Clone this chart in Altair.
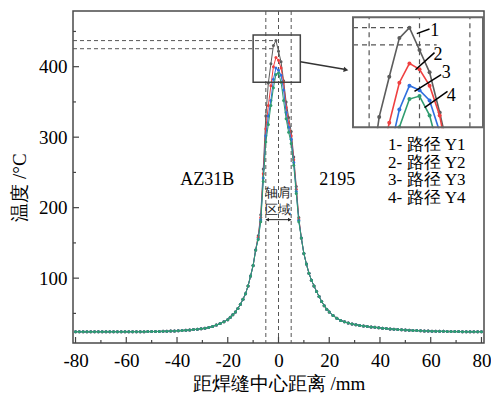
import altair as alt
import pandas as pd

FONT = "Liberation Serif"

series_ids = ["1", "2", "3", "4"]
series_colors = ["#5c5c5c", "#ef4040", "#2f6fdf", "#2f9c70"]

# ---- sampled positions (mm) ----
x_left_tail = [-80, -78.5, -77, -75.5, -74, -72.5, -71, -69.5, -68, -66.5, -65, -63.5,
               -62, -60.5, -59, -57.5, -56, -54.5, -53, -51.5, -50, -48.5, -47, -45.5,
               -44, -42.5, -41, -39.5, -38, -36.5, -35, -33.5, -32, -30.5, -29, -27.5,
               -26, -24.5, -23, -21.5, -20]
x_core = [-19, -18, -17, -16, -15, -14, -13, -12, -11, -10, -9, -8, -7, -6, -5, -4, -3, -2,
          -1, 0, 1, 2, 3, 4, 5, 6, 7, 8, 9, 10, 11, 12, 13, 14, 15, 16, 17, 18, 19]
x_right_tail = [20, 21.5, 23, 24.5, 26, 27.5, 29, 30.5, 32, 33.5, 35, 36.5, 38, 39.5, 41,
                42.5, 44, 45.5, 47, 48.5, 50, 51.5, 53, 54.5, 56, 57.5, 59, 60.5, 62, 63.5,
                65, 66.5, 68, 69.5, 71, 72.5, 74, 75.5, 77, 78.5, 80]

# ---- temperatures (deg C) shared by all paths away from the weld ----
t_left_tail = [24.0, 24.0, 24.0, 24.0, 24.0, 24.0, 24.0, 24.0, 24.0, 24.0, 24.0, 24.0,
               24.1, 24.1, 24.1, 24.1, 24.1, 24.1, 24.1, 24.2, 24.2, 24.3, 24.4, 24.5,
               24.7, 24.9, 25.1, 25.4, 25.7, 26.1, 26.5, 27.0, 27.5, 28.2, 29.0, 30.0,
               31.5, 33.5, 35.5, 38.0, 41.0]
t_core_left = [44.5, 48, 52, 57, 63, 70, 78, 89, 103, 118, 140]          # x -19 .. -9
t_core_right = [157, 135, 120, 107, 97, 89, 81, 74, 67, 61, 56]          # x 9 .. 19
t_right_tail = [52, 47, 43, 40, 38, 36.5, 35, 34, 33, 32.2, 31.5, 30.8, 30.2, 29.6, 29,
                28.5, 28, 27.6, 27.2, 26.8, 26.5, 26.2, 25.9, 25.6, 25.4, 25.2, 25, 24.8,
                24.7, 24.6, 24.5, 24.4, 24.3, 24.2, 24.2, 24.1, 24.1, 24, 24, 24, 24]

# ---- per-path temperatures near the weld centre, x -8 .. 8 ----
t_center_y1 = [160, 190, 255, 330, 377, 404, 430, 437, 422, 407, 380, 350, 328, 308, 272, 230, 186]
t_center_y2 = [158, 186, 248, 312, 345, 373, 400, 413, 409, 398, 378, 342, 320, 302, 268, 226, 184]
t_center_y3 = [156, 183, 242, 302, 330, 352, 382, 398, 395, 388, 367, 335, 314, 297, 264, 223, 182]
t_center_y4 = [155, 180, 237, 293, 318, 345, 370, 389, 391, 378, 352, 326, 307, 291, 260, 220, 180]
centers = [t_center_y1, t_center_y2, t_center_y3, t_center_y4]

x_all = x_left_tail + x_core + x_right_tail
rows = []
for sid, c in zip(series_ids, centers):
    ts = t_left_tail + t_core_left + c + t_core_right + t_right_tail
    for xv, tv in zip(x_all, ts):
        rows.append({"s": sid, "x": xv, "T": tv})
df = pd.DataFrame(rows)

# ---- axis ticks / guides ----
x_major = [-80, -60, -40, -20, 0, 20, 40, 60, 80]
x_minor = [-70, -50, -30, -10, 10, 30, 50, 70]
y_major = [100, 200, 300, 400]
y_minor = [50, 150, 250, 350, 450]
shoulder_x = [-5, 0, 5]
peak_lines_T = [437, 425.5]
peak_lines_main_end = [-1, -2.2]
peak_lines_inset_end = [-1, 1.7]

legend_texts = ["1- 路径 Y1", "2- 路径 Y2", "3- 路径 Y3", "4- 路径 Y4"]
legend_T = [289, 264, 239, 213]

W, H = 411, 332

XS = alt.Scale(domain=[-81, 81], nice=False, zero=False)
YS = alt.Scale(domain=[8, 479], nice=False, zero=False)
XAX = alt.Axis(values=x_major, ticks=False, domain=False, grid=False, labelFont=FONT,
               labelFontSize=19, labelColor="black", labelPadding=8,
               labelExpr="'' + datum.value",
               title="距焊缝中心距离 /mm", titleFont=FONT, titleFontSize=19,
               titleFontWeight="normal", titleColor="black", titlePadding=4)
YAX = alt.Axis(values=y_major, ticks=False, domain=False, grid=False, labelFont=FONT,
               labelFontSize=19, labelColor="black", labelPadding=6,
               title="温度 /°C", titleFont=FONT, titleFontSize=19, titleFontWeight="normal",
               titleColor="black", titlePadding=9, titleY=176)


def mx(f):
    return alt.X(f, type="quantitative", scale=XS, axis=XAX)


def my(f):
    return alt.Y(f, type="quantitative", scale=YS, axis=YAX)


def ox(f):
    return alt.X(f, type="quantitative", scale=XS, axis=None)


def oy(f):
    return alt.Y(f, type="quantitative", scale=YS, axis=None)


XS_in = alt.Scale(domain=[-6.6, 6.3], range=[280, 410], nice=False, zero=False)
YS_in = alt.Scale(domain=[370, 444], range=[116.3, 6.3], nice=False, zero=False)


def ix(f):
    return alt.X(f, type="quantitative", scale=XS_in, axis=None)


def iy(f):
    return alt.Y(f, type="quantitative", scale=YS_in, axis=None)


GUIDE = "#555555"

# ================= main layers =================
main_layers = []
main_layers.append(
    alt.Chart(pd.DataFrame({"x": shoulder_x})).mark_rule(
        color=GUIDE, strokeWidth=1, strokeDash=[4, 3]
    ).encode(x=mx("x"), y=alt.value(0), y2=alt.value(H))
)
main_layers.append(
    alt.Chart(pd.DataFrame({"T": peak_lines_T, "x": [-81, -81], "x2": peak_lines_main_end}))
    .mark_rule(color=GUIDE, strokeWidth=1, strokeDash=[4, 3])
    .encode(y=my("T"), x=mx("x"), x2="x2")
)
for sid, col in zip(series_ids, series_colors):
    d = df[df.s == sid]
    main_layers.append(alt.Chart(d).mark_line(color=col, strokeWidth=1).encode(x=mx("x"), y=my("T")))
    main_layers.append(alt.Chart(d).mark_circle(color=col, size=9, opacity=1).encode(x=mx("x"), y=my("T")))

# ticks (inward)
main_layers.append(alt.Chart(pd.DataFrame({"x": x_major})).mark_rule(color="#444", strokeWidth=1.2)
                   .encode(x=mx("x"), y=alt.value(H), y2=alt.value(H - 6)))
main_layers.append(alt.Chart(pd.DataFrame({"x": x_minor})).mark_rule(color="#444", strokeWidth=1.2)
                   .encode(x=mx("x"), y=alt.value(H), y2=alt.value(H - 3)))
main_layers.append(alt.Chart(pd.DataFrame({"T": y_major})).mark_rule(color="#444", strokeWidth=1.2)
                   .encode(y=my("T"), x=alt.value(0), x2=alt.value(6)))
main_layers.append(alt.Chart(pd.DataFrame({"T": y_minor})).mark_rule(color="#444", strokeWidth=1.2)
                   .encode(y=my("T"), x=alt.value(0), x2=alt.value(3)))

# zoom box + connector arrow
main_layers.append(
    alt.Chart(pd.DataFrame({"x": [-10], "x2": [8.6], "T": [378], "T2": [445]}))
    .mark_rect(fillOpacity=0, stroke="#444", strokeWidth=1.5)
    .encode(x=mx("x"), x2="x2", y=my("T"), y2="T2")
)
main_layers.append(
    alt.Chart(pd.DataFrame({"x": [8.6], "x2": [26.5], "T": [407], "T2": [396]}))
    .mark_rule(color="#333", strokeWidth=1.3)
    .encode(x=mx("x"), x2="x2", y=my("T"), y2="T2")
)
main_layers.append(
    alt.Chart(pd.DataFrame({"x": [26.6], "T": [395.6]}))
    .mark_point(shape="triangle-right", filled=True, size=30, angle=10, color="#333", opacity=1)
    .encode(x=mx("x"), y=my("T"))
)

main = alt.layer(*main_layers)

# ================= inset =================
inset_layers = []
inset_layers.append(
    alt.Chart(pd.DataFrame({"x": [-6.6], "x2": [6.3], "T": [370], "T2": [444]}))
    .mark_rect(fill="white", strokeWidth=0)
    .encode(x=ix("x"), x2="x2", y=iy("T"), y2="T2")
)
inset_layers.append(
    alt.Chart(pd.DataFrame({"x": shoulder_x, "T": [370] * 3, "T2": [444] * 3}))
    .mark_rule(color=GUIDE, strokeWidth=1.2, strokeDash=[5, 4])
    .encode(x=ix("x"), y=iy("T"), y2="T2")
)
inset_layers.append(
    alt.Chart(pd.DataFrame({"T": peak_lines_T, "x": [-6.6, -6.6], "x2": peak_lines_inset_end}))
    .mark_rule(color=GUIDE, strokeWidth=1.2, strokeDash=[5, 4])
    .encode(y=iy("T"), x=ix("x"), x2="x2")
)
din = df[(df.x >= -5) & (df.x <= 3)]
for sid, col in zip(series_ids, series_colors):
    d = din[din.s == sid]
    inset_layers.append(alt.Chart(d).mark_line(color=col, strokeWidth=1.6).encode(x=ix("x"), y=iy("T")))
    inset_layers.append(alt.Chart(d).mark_circle(color=col, size=16, opacity=1).encode(x=ix("x"), y=iy("T")))
# white mask hiding lines that leave the inset through its bottom edge
inset_layers.append(
    alt.Chart(pd.DataFrame({"x": [-5.95], "x2": [5.9], "T": [369.4], "T2": [288]}))
    .mark_rect(fill="white", strokeWidth=0)
    .encode(x=ix("x"), x2="x2", y=iy("T"), y2="T2")
)
inset_layers.append(
    alt.Chart(pd.DataFrame({"x": [-6.6], "x2": [6.3], "T": [370], "T2": [444]}))
    .mark_rect(fillOpacity=0, stroke="#666", strokeWidth=2)
    .encode(x=ix("x"), x2="x2", y=iy("T"), y2="T2")
)
leaders = pd.DataFrame({
    "x": [-0.27, -0.4, -0.5, 0.5],
    "T": [433, 408.7, 394.1, 383.2],
    "x2": [0.99, 1.49, 2.15, 2.78],
    "T2": [436.1, 420.2, 405.4, 394.1],
})
inset_layers.append(
    alt.Chart(leaders).mark_rule(color="black", strokeWidth=1.5)
    .encode(x=ix("x"), x2="x2", y=iy("T"), y2="T2")
)
inset_labels = pd.DataFrame({"x": [1.5, 1.83, 2.66, 3.15], "T": [434.5, 418.8, 406.4, 391],
                             "txt": series_ids})
inset_layers.append(
    alt.Chart(inset_labels).mark_text(font=FONT, fontSize=18, color="black", align="center",
                                      baseline="middle")
    .encode(x=ix("x"), y=iy("T"), text="txt")
)
inset = alt.layer(*inset_layers)

# ================= overlay texts =================
over_layers = []
over_layers.append(
    alt.Chart(pd.DataFrame({"x": [-28.1, 23.2], "T": [239, 239], "txt": ["AZ31B", "2195"]}))
    .mark_text(font=FONT, fontSize=18, color="black", align="center", baseline="middle")
    .encode(x=ox("x"), y=oy("T"), text="txt")
)
over_layers.append(
    alt.Chart(pd.DataFrame({"x": [-0.2, -0.2], "T": [221, 197], "txt": ["轴肩", "区域"]}))
    .mark_text(font=FONT, fontSize=12.5, color="#222", align="center", baseline="middle")
    .encode(x=ox("x"), y=oy("T"), text="txt")
)
over_layers.append(
    alt.Chart(pd.DataFrame({"x": [-5], "x2": [5], "T": [183]}))
    .mark_rule(color="#222", strokeWidth=1)
    .encode(x=ox("x"), x2="x2", y=oy("T"))
)
over_layers.append(
    alt.Chart(pd.DataFrame({"x": [-4.4, 4.4], "T": [183, 183],
                            "shp": ["triangle-left", "triangle-right"]}))
    .mark_point(filled=True, size=14, color="#222", opacity=1)
    .encode(x=ox("x"), y=oy("T"),
            shape=alt.Shape("shp:N", scale=alt.Scale(domain=["triangle-left", "triangle-right"],
                                                      range=["triangle-left", "triangle-right"]),
                            legend=None))
)
over_layers.append(
    alt.Chart(pd.DataFrame({"x": [43.2] * 4, "T": legend_T, "txt": legend_texts}))
    .mark_text(font=FONT, fontSize=17, color="black", align="left", baseline="middle")
    .encode(x=ox("x"), y=oy("T"), text="txt")
)
overlay = alt.layer(*over_layers)

chart = (
    alt.layer(main, inset, overlay)
    .resolve_scale(x="independent", y="independent", shape="independent")
    .properties(
        width=W, height=H,
        autosize=alt.AutoSizeParams(type="none"),
        padding={"left": 73, "top": 11, "right": 7, "bottom": 51},
        background="white",
    )
    .configure_view(stroke="#4a4a4a", strokeWidth=1.5)
)

chart.save("out.html", embed_options={"renderer": "svg", "actions": False})
